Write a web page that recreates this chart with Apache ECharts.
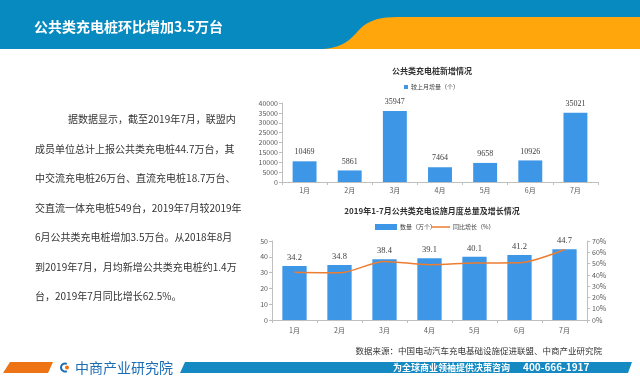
<!DOCTYPE html>
<html>
<head>
<meta charset="utf-8">
<script src="https://cdn.jsdelivr.net/npm/echarts@6/dist/echarts.min.js"></script>
<style>
  html, body { margin: 0; padding: 0; background: #fff; }
  #main { width: 640px; height: 376px; }
</style>
</head>
<body>
<div id="main"></div>
<script>
const months = ['1月', '2月', '3月', '4月', '5月', '6月', '7月']
const newAdded = [10469, 5861, 35947, 7464, 9658, 10926, 35021]
const totals = [34.2, 34.8, 38.4, 39.1, 40.1, 41.2, 44.7]
const growthPct = [42.3, 41.8, 51.9, 49.0, 50.5, 50.7, 62.5]
const textLines = [
  '据数据显示，截至2019年7月，联盟内',
  '成员单位总计上报公共类充电桩44.7万台，其',
  '中交流充电桩26万台、直流充电桩18.7万台、',
  '交直流一体充电桩549台，2019年7月较2019年',
  '6月公共类充电桩增加3.5万台。从2018年8月',
  '到2019年7月，月均新增公共类充电桩约1.4万',
  '台，2019年7月同比增长62.5%。'
]

const sans = '"Noto Sans CJK SC", "Noto Sans", sans-serif'
const serif = '"Liberation Serif", "Noto Sans CJK SC", serif'
const barColor = '#3d96e6'
const lineColor = '#ed7d31'
const axisGray = '#bfbfbf'

// 顶部橙色波浪：三次贝塞尔取点
const cubic = (p0, p1, p2, p3, n) => {
  const pts = []
  for (let i = 0; i <= n; i++) {
    const t = i / n
    const a = (1 - t) * (1 - t) * (1 - t)
    const b = 3 * (1 - t) * (1 - t) * t
    const c = 3 * (1 - t) * t * t
    const d = t * t * t
    pts.push([
      a * p0[0] + b * p1[0] + c * p2[0] + d * p3[0],
      a * p0[1] + b * p1[1] + c * p2[1] + d * p3[1]
    ])
  }
  return pts
}
const wave = cubic([323, 49], [342, 48], [350, 40], [358, 31], 10)
  .concat(cubic([358, 31], [366, 22], [376, 17], [398, 17], 10))
  .concat([[640, 17], [640, 49]])

const paragraph = textLines.map((line, i) => ({
  type: 'text',
  x: i === 0 ? 68 : 35,
  y: 119.5 + i * 29.5,
  style: {
    text: line,
    font: '10px ' + sans,
    fill: '#333',
    textVerticalAlign: 'middle'
  }
}))

const decorations = [
  { type: 'rect', shape: { x: 0, y: 0, width: 640, height: 49 }, style: { fill: '#078abf' } },
  { type: 'polygon', shape: { points: wave }, style: { fill: '#ffa60c' } },
  {
    type: 'text', x: 34, y: 27,
    style: { text: '公共类充电桩环比增加3.5万台', font: 'bold 14px ' + sans, fill: '#fff', textVerticalAlign: 'middle' }
  },
  {
    type: 'text', x: 432, y: 71,
    style: { text: '公共类充电桩新增情况', font: 'bold 8px ' + sans, fill: '#333', textAlign: 'center', textVerticalAlign: 'middle' }
  },
  {
    type: 'text', x: 432, y: 211,
    style: { text: '2019年1-7月公共类充电设施月度总量及增长情况', font: 'bold 8px ' + sans, fill: '#333', textAlign: 'center', textVerticalAlign: 'middle' }
  },
  {
    type: 'text', x: 602, y: 351,
    style: { text: '数据来源：中国电动汽车充电基础设施促进联盟、中商产业研究院', font: '8.5px ' + sans, fill: '#333', textAlign: 'right', textVerticalAlign: 'middle' }
  },
  // 底部条
  { type: 'polygon', shape: { points: [[3, 373], [10, 362], [53, 362], [48, 373]] }, style: { fill: '#ee7314' } },
  { type: 'arc', shape: { cx: 65, cy: 367.5, r: 4, startAngle: Math.PI * 0.35, endAngle: Math.PI * 1.65 }, style: { stroke: '#1a6db5', lineWidth: 2, fill: null } },
  { type: 'circle', shape: { cx: 67, cy: 367.5, r: 2 }, style: { fill: '#ee7314' } },
  {
    type: 'text', x: 75, y: 367.5,
    style: { text: '中商产业研究院', font: '14px ' + sans, fill: '#1a6db5', textVerticalAlign: 'middle' }
  },
  { type: 'polygon', shape: { points: [[180, 373], [185, 362], [632, 362], [628, 373]] }, style: { fill: '#1589c1' } },
  {
    type: 'text', x: 393, y: 367.5,
    style: { text: '为全球商业领袖提供决策咨询', font: 'bold 9px ' + sans, fill: '#fff', textVerticalAlign: 'middle' }
  },
  {
    type: 'text', x: 523, y: 367.5,
    style: { text: '400-666-1917', font: 'bold 10px ' + sans, fill: '#fff', textVerticalAlign: 'middle' }
  }
]

const axisLabel = { fontSize: 7, color: '#595959', fontFamily: sans }
const legendText = { fontSize: 6, color: '#404040', fontFamily: sans, padding: [0, 0, 0, -2] }

const myChart = echarts.init(document.getElementById('main'))
const option = {
  animation: false,
  backgroundColor: '#fff',
  graphic: decorations.concat(paragraph),
  legend: [
    {
      data: ['较上月增量（个）'],
      left: 404, top: 84, padding: 0,
      icon: 'rect', itemWidth: 4, itemHeight: 4,
      textStyle: legendText
    },
    {
      data: ['数量（万个）'],
      left: 375, top: 224, padding: 0,
      icon: 'rect', itemWidth: 22, itemHeight: 6,
      textStyle: legendText
    },
    {
      data: ['同比增长（%）'],
      left: 431, top: 224, padding: 0,
      icon: 'rect', itemWidth: 19, itemHeight: 1.5,
      textStyle: legendText
    }
  ],
  grid: [
    { left: 282, right: 42, top: 103, bottom: 194 },
    { left: 272, right: 53, top: 241, bottom: 56 }
  ],
  xAxis: [
    {
      type: 'category', gridIndex: 0, data: months,
      axisLine: { lineStyle: { color: axisGray } },
      axisTick: { show: true, lineStyle: { color: axisGray }, length: 3 },
      axisLabel: Object.assign({ margin: 5 }, axisLabel)
    },
    {
      type: 'category', gridIndex: 1, data: months,
      axisLine: { lineStyle: { color: axisGray } },
      axisTick: { show: true, lineStyle: { color: axisGray }, length: 3 },
      axisLabel: Object.assign({ margin: 7 }, axisLabel)
    }
  ],
  yAxis: [
    {
      type: 'value', gridIndex: 0, min: 0, max: 40000, interval: 5000,
      axisLine: { show: true, lineStyle: { color: axisGray } },
      axisTick: { show: true, lineStyle: { color: axisGray }, length: 3 },
      splitLine: { show: false },
      axisLabel: Object.assign({ margin: 4, formatter: (v) => String(v) }, axisLabel)
    },
    {
      type: 'value', gridIndex: 1, min: 0, max: 50, interval: 10,
      axisLine: { show: true, lineStyle: { color: axisGray } },
      axisTick: { show: true, lineStyle: { color: axisGray }, length: 3 },
      splitLine: { show: false },
      axisLabel: Object.assign({ margin: 4 }, axisLabel)
    },
    {
      type: 'value', gridIndex: 1, position: 'right', min: 0, max: 70, interval: 10,
      axisLine: { show: true, lineStyle: { color: axisGray } },
      axisTick: { show: true, lineStyle: { color: axisGray }, length: 3 },
      splitLine: { show: false },
      axisLabel: Object.assign({ margin: 5, formatter: '{value}%' }, axisLabel)
    }
  ],
  series: [
    {
      name: '较上月增量（个）',
      type: 'bar', xAxisIndex: 0, yAxisIndex: 0,
      data: newAdded, barWidth: '53%',
      itemStyle: { color: barColor },
      label: { show: true, position: 'top', distance: 5, fontSize: 8, color: '#404040', fontFamily: serif }
    },
    {
      name: '数量（万个）',
      type: 'bar', xAxisIndex: 1, yAxisIndex: 1,
      data: totals, barWidth: '54%',
      itemStyle: { color: barColor },
      label: { show: true, position: 'top', distance: 4, fontSize: 8.5, color: '#404040', fontFamily: serif }
    },
    {
      name: '同比增长（%）',
      type: 'line', xAxisIndex: 1, yAxisIndex: 2,
      data: growthPct, smooth: 0.3, symbol: 'none',
      lineStyle: { color: lineColor, width: 1.5 },
      itemStyle: { color: lineColor }
    }
  ]
}
myChart.setOption(option)
</script>
</body>
</html>
